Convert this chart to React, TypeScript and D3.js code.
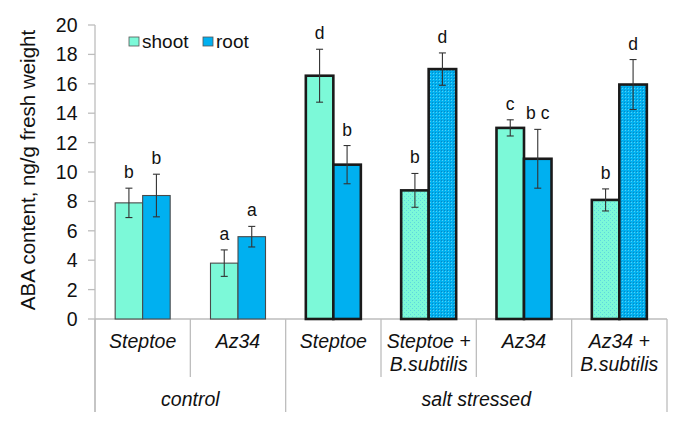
import React from "react";
import * as d3 from "d3";

const categoryLines: string[][] = [
  ["Steptoe"],
  ["Az34"],
  ["Steptoe"],
  ["Steptoe +", "B.subtilis"],
  ["Az34"],
  ["Az34 +", "B.subtilis"],
];
const groups = ["control", "salt stressed"];
const groupStart = [0, 2];
const groupEnd = [2, 6];
const salted = [false, false, true, true, true, true];
const patterned = [false, false, false, true, false, true];

const shootMean = [7.9, 3.8, 16.55, 8.75, 13.0, 8.1];
const shootErr = [1.0, 0.9, 1.8, 1.15, 0.55, 0.75];
const rootMean = [8.4, 5.6, 10.5, 17.0, 10.9, 15.95];
const rootErr = [1.45, 0.7, 1.3, 1.1, 2.0, 1.7];
const shootLetters = ["b", "a", "d", "b", "c", "b"];
const rootLetters = ["b", "a", "b", "d", "b c", "d"];
const series = ["shoot", "root"];
const yTicks = [0, 2, 4, 6, 8, 10, 12, 14, 16, 18, 20];

const W = 696;
const H = 427;
const FONT = "'Liberation Sans', Arial, sans-serif";
const SHOOT = "#7cf9d8";
const ROOT = "#00b0f0";

export default function App() {
  const idx = categoryLines.map((_, i) => String(i));
  const x0 = d3.scaleBand().domain(idx).range([95, 667]).padding(0);
  const x1 = d3
    .scaleBand()
    .domain(series)
    .range([0, x0.step()])
    .paddingInner(0)
    .paddingOuter(0.733);
  const y = d3.scaleLinear().domain([0, 20]).range([319, 25]);

  const means = [shootMean, rootMean];
  const errs = [shootErr, rootErr];
  const letters = [shootLetters, rootLetters];
  const baseColors = [SHOOT, ROOT];

  return (
    <svg
      width={W}
      height={H}
      style={{ position: "absolute", left: 0, top: 0, background: "#fff" }}
      fontFamily={FONT}
    >
      <defs>
        <pattern id="pShoot" width="4" height="4" patternUnits="userSpaceOnUse">
          <rect width="4" height="4" fill={SHOOT} />
          <rect x="0" y="0" width="1" height="1" fill="#5fd6e0" />
          <rect x="2" y="2" width="1" height="1" fill="#5fd6e0" />
        </pattern>
        <pattern id="pRoot" width="3" height="3" patternUnits="userSpaceOnUse">
          <rect width="3" height="3" fill={ROOT} />
          <rect x="0" y="0" width="1" height="1" fill="#0a86c0" />
          <rect x="1" y="1" width="1" height="1" fill="#52d0f5" />
        </pattern>
      </defs>

      {/* Y axis */}
      <line x1={95} x2={95} y1={25} y2={412} stroke="#bdbdbd" strokeWidth={1.3} />
      {yTicks.map((t) => (
        <g key={t}>
          <line x1={88} x2={95} y1={y(t)} y2={y(t)} stroke="#bdbdbd" strokeWidth={1.3} />
          <text
            x={77.5}
            y={y(t)}
            dy="0.36em"
            textAnchor="end"
            fontSize={19.5}
            fill="#111"
          >
            {t}
          </text>
        </g>
      ))}
      <text
        transform={`translate(35,${(25 + 319) / 2 - 2}) rotate(-90)`}
        textAnchor="middle"
        fontSize={20.5}
        fill="#111"
      >
        ABA content, ng/g fresh weight
      </text>

      {/* X axis */}
      <line x1={95} x2={667} y1={319} y2={319} stroke="#bdbdbd" strokeWidth={1.3} />
      {idx.map((k, i) => {
        const xs = x0(k)!;
        const isGroupStart = groupStart.includes(i);
        return (
          <line
            key={"sep" + k}
            x1={xs}
            x2={xs}
            y1={319}
            y2={isGroupStart ? 412 : 377}
            stroke="#bdbdbd"
            strokeWidth={1.3}
          />
        );
      })}
      <line
        x1={x0.range()[1]}
        x2={x0.range()[1]}
        y1={319}
        y2={412}
        stroke="#bdbdbd"
        strokeWidth={1.3}
      />

      {/* category labels */}
      {categoryLines.map((lines, i) => {
        const cx = x0(String(i))! + x0.bandwidth() / 2;
        return (
          <text
            key={"cl" + i}
            x={cx}
            y={348}
            textAnchor="middle"
            fontSize={19.5}
            fontStyle="italic"
            fill="#111"
          >
            {lines.map((l, j) => (
              <tspan key={j} x={cx} dy={j === 0 ? 0 : 22.5}>
                {l}
              </tspan>
            ))}
          </text>
        );
      })}
      {groups.map((g, gi) => {
        const a = x0(String(groupStart[gi]))!;
        const b = x0(String(groupEnd[gi] - 1))! + x0.bandwidth();
        return (
          <text
            key={g}
            x={(a + b) / 2}
            y={406}
            textAnchor="middle"
            fontSize={19.5}
            fontStyle="italic"
            fill="#111"
          >
            {g}
          </text>
        );
      })}

      {/* bars */}
      {idx.map((k, i) => (
        <g key={"b" + k}>
          {series.map((s, si) => {
            const bx = x0(k)! + x1(s)!;
            const bw = x1.bandwidth();
            const v = means[si][i];
            const e = errs[si][i];
            const cx = bx + bw / 2;
            const fill = patterned[i]
              ? si === 0
                ? "url(#pShoot)"
                : "url(#pRoot)"
              : baseColors[si];
            const sw = salted[i] ? 2.6 : 1.1;
            const st = salted[i] ? "#1a1a1a" : "#4a4a4a";
            return (
              <g key={s}>
                <rect
                  x={bx}
                  y={y(v)}
                  width={bw}
                  height={y(0) - y(v)}
                  fill={fill}
                  stroke={st}
                  strokeWidth={sw}
                />
                <line x1={cx} x2={cx} y1={y(v + e)} y2={y(v - e)} stroke="#333" strokeWidth={1.1} />
                <line x1={cx - 3.5} x2={cx + 3.5} y1={y(v + e)} y2={y(v + e)} stroke="#333" strokeWidth={1.1} />
                <line x1={cx - 3.5} x2={cx + 3.5} y1={y(v - e)} y2={y(v - e)} stroke="#333" strokeWidth={1.1} />
                <text
                  x={cx}
                  y={y(v + e) - 10}
                  textAnchor="middle"
                  fontSize={17.5}
                  fill="#111"
                >
                  {letters[si][i]}
                </text>
              </g>
            );
          })}
        </g>
      ))}

      {/* legend */}
      {series.map((s, si) => {
        const lx = si === 0 ? 129 : 203;
        return (
          <g key={"lg" + s}>
            <rect x={lx} y={37} width={10} height={9} fill={baseColors[si]} stroke="#555" strokeWidth={0.8} />
            <text x={lx + 13} y={47.5} fontSize={19} fill="#111">
              {s}
            </text>
          </g>
        );
      })}
    </svg>
  );
}
